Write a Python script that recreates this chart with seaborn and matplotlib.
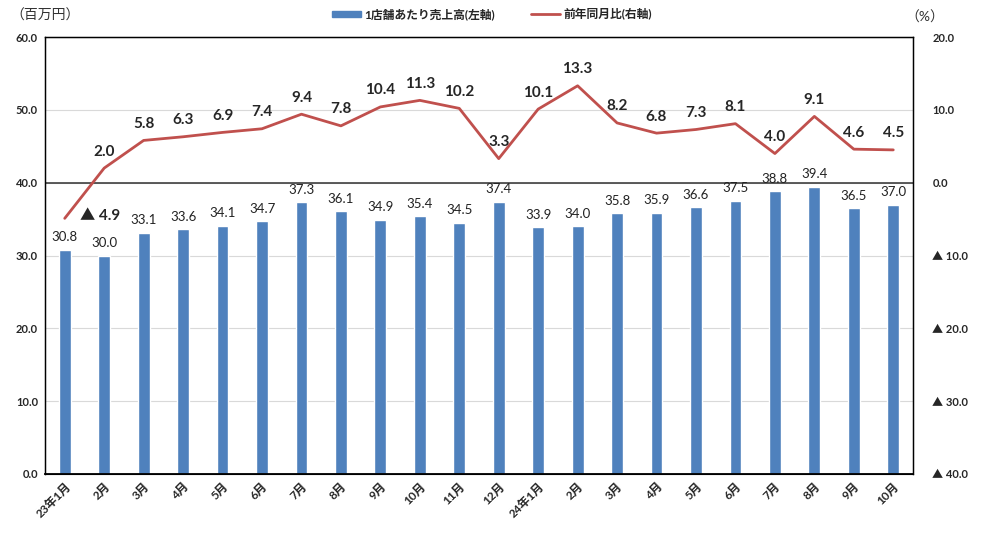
import matplotlib
matplotlib.use('Agg')
import matplotlib.pyplot as plt
import numpy as np
import pandas as pd
import seaborn as sns
from matplotlib.lines import Line2D
from matplotlib.patches import Patch

# データ
months = ['23年1月', '2月', '3月', '4月', '5月', '6月', '7月', '8月', '9月', '10月', '11月', '12月',
          '24年1月', '2月', '3月', '4月', '5月', '6月', '7月', '8月', '9月', '10月']
sales = [30.8, 30.0, 33.1, 33.6, 34.1, 34.7, 37.3, 36.1, 34.9, 35.4, 34.5, 37.4,
         33.9, 34.0, 35.8, 35.9, 36.6, 37.5, 38.8, 39.4, 36.5, 37.0]
yoy = [-4.9, 2.0, 5.8, 6.3, 6.9, 7.4, 9.4, 7.8, 10.4, 11.3, 10.2, 3.3,
       10.1, 13.3, 8.2, 6.8, 7.3, 8.1, 4.0, 9.1, 4.6, 4.5]
left_ticks = [0, 10, 20, 30, 40, 50, 60]
right_ticks = [-40, -30, -20, -10, 0, 10, 20]

sns.set_style('white')
plt.rcParams['font.family'] = ['Lato', 'Noto Sans CJK JP', 'DejaVu Sans']

bar_color = '#4F81BD'
line_color = '#C0504D'

df = pd.DataFrame({'pos': range(len(months)), 'month': months, 'sales': sales, 'yoy': yoy})

fig = plt.figure(figsize=(9.84, 5.33), dpi=100)
ax = fig.add_axes([45 / 984, 1 - 474 / 533, (913 - 45) / 984, (474 - 37) / 533])

sns.barplot(data=df, x='pos', y='sales', color=bar_color, width=0.3, saturation=1, ax=ax)
ax.set_ylim(0, 60)
ax.set_xlim(-0.5, len(months) - 0.5)
ax.set_yticks(left_ticks)
ax.set_yticklabels([f'{v:.1f}' for v in left_ticks], fontsize=8, fontweight='bold')
ax.set_xticks(range(len(months)))
ax.set_xticklabels(months, rotation=45, ha='right', rotation_mode='anchor', fontsize=8.5, fontweight='bold')
ax.set_xlabel('')
ax.set_ylabel('')
ax.tick_params(axis='both', length=0, pad=5)
ax.grid(axis='y', color='#D9D9D9', linewidth=0.8)
ax.set_axisbelow(True)
for s in ax.spines.values():
    s.set_color('black')
    s.set_linewidth(1)
ax.spines['bottom'].set_linewidth(1.3)
ax.axhline(40, color='#404040', linewidth=1.2, zorder=1)

for i, v in enumerate(sales):
    ax.text(i, v + 0.9, f'{v:.1f}', ha='center', va='bottom', fontsize=9.5, color='#222222')

# 右軸
ax2 = ax.twinx()
sns.lineplot(data=df, x='pos', y='yoy', color=line_color, linewidth=2, ax=ax2)
ax2.set_ylim(-40, 20)
ax2.set_yticks(right_ticks)
ax2.set_yticklabels([f'{v:.1f}' if v >= 0 else f'▲ {abs(v):.1f}' for v in right_ticks],
                    fontsize=8, fontweight='bold')
ax2.tick_params(axis='y', length=0, pad=14)
ax2.set_xlim(-0.5, len(months) - 0.5)
ax2.set_ylabel('')
ax2.set_xlabel('')
for s in ax2.spines.values():
    s.set_color('black')

for i, v in enumerate(yoy):
    if v < 0:
        ax2.text(i + 0.9, v + 0.3, f'▲ {abs(v):.1f}', ha='center', va='center',
                 fontsize=11, fontweight='bold')
    else:
        ax2.text(i, v + 1.3, f'{v:.1f}', ha='center', va='bottom', fontsize=11, fontweight='bold')

# 凡例・単位
handles = [Patch(color=bar_color), Line2D([0], [0], color=line_color, linewidth=2)]
fig.legend(handles, ['1店舗あたり売上高(左軸)', '前年同月比(右軸)'], loc='center',
           bbox_to_anchor=(0.5, 1 - 14 / 533), ncol=2, frameon=False,
           prop={'size': 8.5, 'weight': 'bold'}, handlelength=2.5, columnspacing=3,
           handleheight=0.5, handletextpad=0.3)
fig.text(10 / 984, 1 - 15 / 533, '（百万円）', fontsize=10, va='center', ha='left', color='#333333')
fig.text(905 / 984, 1 - 17 / 533, '（%）', fontsize=10, va='center', ha='left', color='#333333')

fig.savefig('out.png', dpi=100)
